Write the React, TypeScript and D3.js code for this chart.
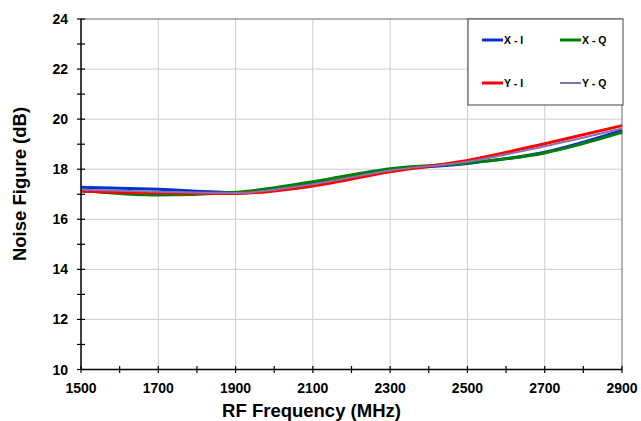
import React from "react";
import * as d3 from "d3";

const freqs = [1500, 1700, 1900, 2100, 2300, 2500, 2700, 2900];
const xiValues = [17.28, 17.2, 17.07, 17.45, 17.97, 18.23, 18.68, 19.55];
const xqValues = [17.15, 16.97, 17.08, 17.5, 18.02, 18.25, 18.65, 19.47];
const yiValues = [17.12, 17.05, 17.03, 17.33, 17.9, 18.35, 19.02, 19.74];
const yqValues = [17.18, 17.1, 17.05, 17.4, 17.95, 18.3, 18.92, 19.63];
const seriesNames = ["X - I", "X - Q", "Y - I", "Y - Q"];
const xTicks = [1500, 1700, 1900, 2100, 2300, 2500, 2700, 2900];
const yTicks = [10, 12, 14, 16, 18, 20, 22, 24];

const W = 641, H = 421;
const L = 81, R = 622, T = 19, B = 369.5;
const FONT = "'Liberation Sans', Arial, sans-serif";

export default function App() {
  const x = d3.scaleLinear().domain([1500, 2900]).range([L, R]);
  const y = d3.scaleLinear().domain([10, 24]).range([B, T]);
  const line = d3
    .line<number>()
    .x((_, i) => x(freqs[i]))
    .y((d) => y(d))
    .curve(d3.curveMonotoneX);

  const series = [
    { name: seriesNames[0], values: xiValues, color: "#0033cc", w: 3 },
    { name: seriesNames[1], values: xqValues, color: "#008000", w: 3 },
    { name: seriesNames[2], values: yiValues, color: "#ff0000", w: 3 },
    { name: seriesNames[3], values: yqValues, color: "#8a70b0", w: 2 },
  ];
  const minorX = d3.range(1600, 2900, 200);
  const minorY = d3.range(11, 24, 2);

  const legendPos = [
    { lx: 482, ly: 40 },
    { lx: 560, ly: 40 },
    { lx: 482, ly: 83 },
    { lx: 560, ly: 83 },
  ];

  return (
    <svg
      width={W}
      height={H}
      style={{ position: "absolute", left: 0, top: 0, display: "block", background: "#fff" }}
      fontFamily={FONT}
    >
      {/* grid */}
      {xTicks.slice(1).map((t) => (
        <line key={"gx" + t} x1={x(t)} x2={x(t)} y1={T} y2={B} stroke="#cccccc" strokeWidth={1} />
      ))}
      {yTicks.slice(1).map((t) => (
        <line key={"gy" + t} x1={L} x2={R} y1={y(t)} y2={y(t)} stroke="#cccccc" strokeWidth={1} />
      ))}
      {/* border top/right */}
      <line x1={L} x2={R} y1={T} y2={T} stroke="#808080" strokeWidth={1} />
      <line x1={R} x2={R} y1={T} y2={B} stroke="#808080" strokeWidth={1} />

      {/* series */}
      {series.map((s) => (
        <path key={s.name} d={line(s.values) || ""} fill="none" stroke={s.color} strokeWidth={s.w} strokeLinejoin="round" />
      ))}

      {/* axes */}
      <line x1={L} x2={L} y1={T} y2={B} stroke="#000" strokeWidth={1.5} />
      <line x1={L} x2={R} y1={B} y2={B} stroke="#000" strokeWidth={1.5} />
      {yTicks.map((t) => (
        <line key={"ty" + t} x1={L - 4} x2={L + 4} y1={y(t)} y2={y(t)} stroke="#000" strokeWidth={1.2} />
      ))}
      {minorY.map((t) => (
        <line key={"my" + t} x1={L - 4} x2={L + 4} y1={y(t)} y2={y(t)} stroke="#000" strokeWidth={1.2} />
      ))}
      {xTicks.map((t) => (
        <line key={"tx" + t} x1={x(t)} x2={x(t)} y1={B - 3.5} y2={B + 3.5} stroke="#000" strokeWidth={1.2} />
      ))}
      {minorX.map((t) => (
        <line key={"mx" + t} x1={x(t)} x2={x(t)} y1={B - 3.5} y2={B + 3.5} stroke="#000" strokeWidth={1.2} />
      ))}
      {yTicks.map((t) => (
        <text key={"ly" + t} x={L - 13} y={y(t) + 5} textAnchor="end" fontSize={14} fontWeight="bold">
          {t}
        </text>
      ))}
      {xTicks.map((t) => (
        <text key={"lx" + t} x={x(t)} y={393} textAnchor="middle" fontSize={14} fontWeight="bold">
          {t}
        </text>
      ))}
      <text x={311.5} y={417} textAnchor="middle" fontSize={18.5} fontWeight="bold">
        RF Frequency (MHz)
      </text>
      <text
        transform={`translate(26,184) rotate(-90)`}
        textAnchor="middle"
        fontSize={18.5}
        fontWeight="bold"
      >
        Noise Figure (dB)
      </text>

      {/* legend */}
      <rect x={468} y={19} width={155} height={86} fill="#fff" stroke="#404040" strokeWidth={1} />
      {series.map((s, i) => (
        <g key={"lg" + s.name}>
          <line
            x1={legendPos[i].lx}
            x2={legendPos[i].lx + 21}
            y1={legendPos[i].ly}
            y2={legendPos[i].ly}
            stroke={s.color}
            strokeWidth={s.w}
          />
          <text x={legendPos[i].lx + 22} y={legendPos[i].ly + 4} fontSize={10.5} fontWeight="bold">
            {s.name}
          </text>
        </g>
      ))}
    </svg>
  );
}
